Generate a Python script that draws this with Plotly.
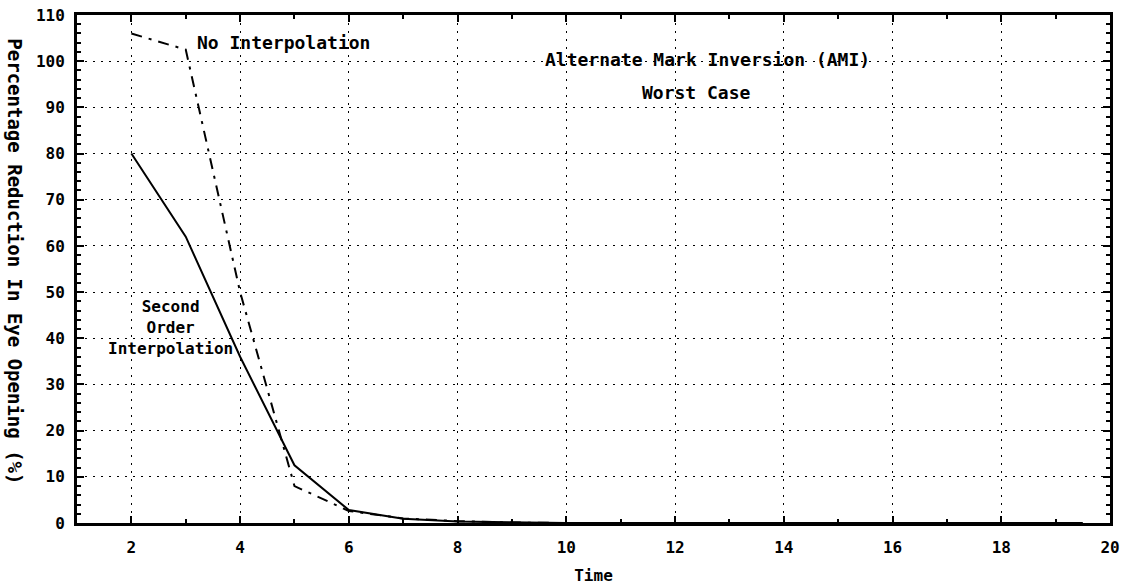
import plotly.graph_objects as go

# Data
time = [2, 3, 4, 5, 6, 7, 8, 9, 10, 11, 12, 13, 14, 15, 16, 17, 18, 19, 19.5]
no_interp = [106, 102.5, 50, 8, 2.6, 1.0, 0.4, 0.1, 0, 0, 0, 0, 0, 0, 0, 0, 0, 0, 0]
second_order = [80, 62, 36, 12.5, 2.8, 0.9, 0.3, 0.1, 0, 0, 0, 0, 0, 0, 0, 0, 0, 0, 0]

x_ticks = [2, 4, 6, 8, 10, 12, 14, 16, 18, 20]
y_ticks = [0, 10, 20, 30, 40, 50, 60, 70, 80, 90, 100, 110]

FONT = "DejaVu Sans Mono"

fig = go.Figure()
fig.add_trace(go.Scatter(x=time, y=second_order, mode="lines",
                         line=dict(color="black", width=2), name="Second Order Interpolation"))
fig.add_trace(go.Scatter(x=time, y=no_interp, mode="lines",
                         line=dict(color="black", width=2, dash="11px,7px,3px,7px"),
                         name="No Interpolation"))

ann_font = dict(family=FONT, size=18, color="black", weight="bold")
annotations = [
    dict(x=3.17, y=104, text="No Interpolation", xanchor="left"),
    dict(x=12.6, y=100.3, text="Alternate Mark Inversion (AMI)", xanchor="center"),
    dict(x=12.4, y=93.3, text="Worst Case", xanchor="center"),
]
for a in annotations:
    fig.add_annotation(xref="x", yref="y", showarrow=False, yanchor="middle",
                       font=ann_font, bgcolor="rgba(0,0,0,0)", **a)

fig.add_annotation(xref="x", yref="y", x=2.72, y=42.4, showarrow=False,
                   text="Second<br>Order<br>Interpolation", align="center",
                   xanchor="center", yanchor="middle",
                   font=dict(family=FONT, size=16, color="black", weight="bold"))

fig.add_annotation(xref="paper", yref="paper", x=-0.06, y=0.515,
                   text="Percentage Reduction In Eye Opening (%)", textangle=90,
                   showarrow=False, xanchor="center", yanchor="middle",
                   font=dict(family=FONT, size=19, color="black", weight="bold"))

fig.update_layout(
    width=1132, height=587,
    margin=dict(l=77, r=22, t=15, b=64),
    paper_bgcolor="white", plot_bgcolor="white",
    showlegend=False,
    font=dict(family=FONT, color="black", size=14),
)
fig.update_xaxes(
    range=[1, 20], tickvals=x_ticks, ticktext=[str(v) for v in x_ticks],
    ticks="inside", ticklen=7, tickwidth=2, tickcolor="black",
    showline=True, linecolor="black", linewidth=3, mirror="ticks",
    showgrid=True, gridcolor="black", gridwidth=1.3, griddash="2px,6px",
    zeroline=False, ticklabelstandoff=8, automargin=False,
    tickfont=dict(family=FONT, size=16, color="black", weight="bold"),
    minor=dict(dtick=1, tick0=1, ticks="inside", ticklen=4, tickwidth=2, tickcolor="black", showgrid=False),
    title=dict(text="Time", font=dict(family=FONT, size=16, color="black", weight="bold"), standoff=14),
)
fig.update_yaxes(
    range=[0, 110], tickvals=y_ticks, ticktext=[str(v) for v in y_ticks],
    ticks="inside", ticklen=7, tickwidth=2, tickcolor="black",
    showline=True, linecolor="black", linewidth=3, mirror="ticks",
    showgrid=True, gridcolor="black", gridwidth=1.3, griddash="2px,6px",
    zeroline=False, ticklabelstandoff=6, automargin=False,
    tickfont=dict(family=FONT, size=16, color="black", weight="bold"),
    minor=dict(dtick=2, tick0=0, ticks="inside", ticklen=4, tickwidth=2, tickcolor="black", showgrid=False),
)

fig.write_html("out.html", config={"displayModeBar": False},
               post_script="document.body.style.margin='0';")
